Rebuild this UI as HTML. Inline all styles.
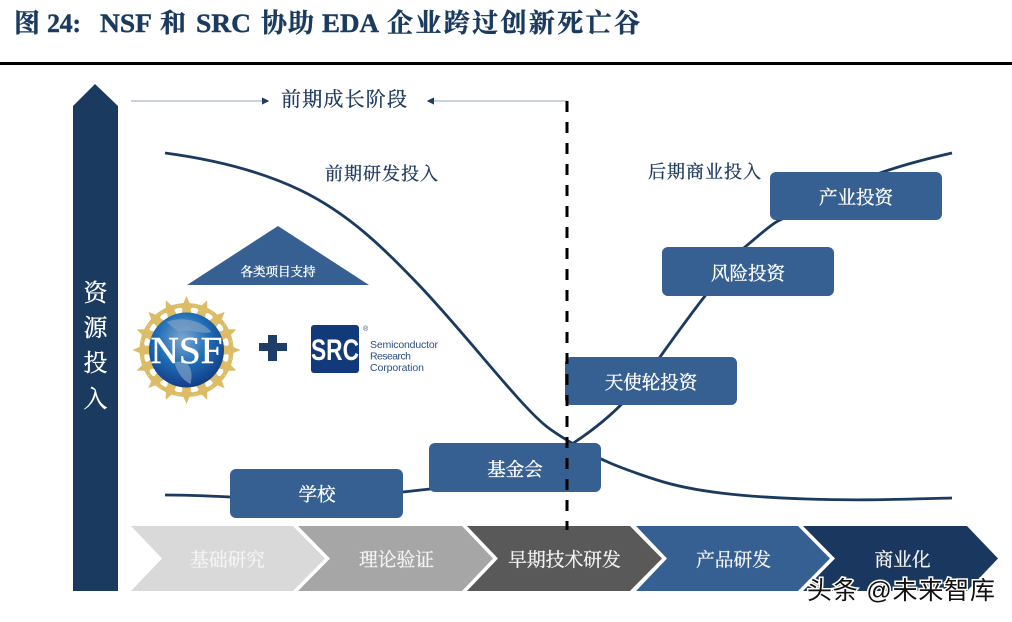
<!DOCTYPE html>
<html lang="zh"><head><meta charset="utf-8"><style>
html,body{margin:0;padding:0;background:#fff}
svg{display:block}
text{font-family:"Liberation Serif","Noto Serif CJK SC",serif}
.w{fill:#fff;stroke:#fff;stroke-width:.35px;font-size:18.500px;text-anchor:middle}
.c{fill:#f4f4f4;stroke:#f4f4f4;stroke-width:.3px;font-size:18.800px;text-anchor:middle}
.d{fill:#1f3b60;stroke:#1f3b60;stroke-width:.3px;font-size:18px}
.l{font-family:"Liberation Sans",sans-serif;fill:#2a4f87;font-size:10.500px}
</style></head><body>
<svg width="1012" height="622" viewBox="0 0 1012 622" xmlns="http://www.w3.org/2000/svg">
<defs>
<radialGradient id="g" cx="45%" cy="35%" r="70%"><stop offset="0" stop-color="#7fa6cf"/><stop offset=".5" stop-color="#1d6db5"/><stop offset="1" stop-color="#12357f"/></radialGradient>
<polygon id="s" points="0,-54 3,-47 10,-46 4,-41 5,-36 -5,-36 -4,-41 -10,-46 -3,-47" fill="#dcbc66"/>
<marker id="a" markerWidth="6" markerHeight="6" refX="5" refY="3" orient="auto"><path d="M0 0L6 3L0 6Z" fill="#1f3b60"/></marker>
</defs>
<g font-weight="700" font-size="26" fill="#1a3a5f" stroke="#1a3a5f" stroke-width=".4">
<text x="14" y="32">图</text>
<text x="47" y="32" textLength="34">24:</text>
<text x="100" y="32" textLength="52" lengthAdjust="spacingAndGlyphs">NSF</text>
<text x="160" y="32">和</text>
<text x="196" y="32" textLength="55" lengthAdjust="spacingAndGlyphs">SRC</text>
<text x="261" y="32" textLength="53">协助</text>
<text x="322" y="32" textLength="57" lengthAdjust="spacingAndGlyphs">EDA</text>
<text x="387" y="32" textLength="253">企业跨过创新死亡谷</text>
</g>
<rect x="0" y="62" width="1012" height="3" fill="#000"/>
<polygon points="95,84 118,106 118,591 73,591 73,106" fill="#1a3a5f"/>
<text class="w" x="95.500" y="301" style="font-size:24px">资</text>
<text class="w" x="95.500" y="336" style="font-size:24px">源</text>
<text class="w" x="95.500" y="371" style="font-size:24px">投</text>
<text class="w" x="95.500" y="407" style="font-size:24px">入</text>

<line x1="131" y1="101" x2="268" y2="101" stroke="#a9b7c8" stroke-width="1.200" marker-end="url(#a)"/>
<line x1="567" y1="101" x2="428" y2="101" stroke="#a9b7c8" stroke-width="1.200" marker-end="url(#a)"/>
<text class="d" x="281" y="106" style="font-size:20px" textLength="126">前期成长阶段</text>
<text class="d" x="325" y="180" textLength="113">前期研发投入</text>
<text class="d" x="648" y="178" textLength="113">后期商业投入</text>

<path d="M165,153 C195,157 250,166 300,190 S385,250 417,283 S490,367 517,397 S550,430 575,445 S620,468 657,480 S745,497 807,499 S900,499 952,498" fill="none" stroke="#1a3a5f" stroke-width="2.800"/>
<path d="M165,495 C190,495 210,496 230,497 L403,492 L430,489 C480,482 530,472 575,442 S640,385 660,357 S690,315 705,296 S735,255 745,247 S770,225 778,221 S860,180 883,172 S930,158 952,153" fill="none" stroke="#1a3a5f" stroke-width="2.800"/>

<polygon points="278,226 369,285 187,285" fill="#376092"/>
<text class="w" x="278" y="276" style="font-size:12.500px" textLength="75">各类项目支持</text>

<g transform="translate(186.500,350)">
<circle r="44" fill="none" stroke="#dcbc66" stroke-width="2.500"/>
<use href="#s"/><use href="#s" transform="rotate(22.500)"/><use href="#s" transform="rotate(45)"/><use href="#s" transform="rotate(67.500)"/><use href="#s" transform="rotate(90)"/><use href="#s" transform="rotate(112.500)"/><use href="#s" transform="rotate(135)"/><use href="#s" transform="rotate(157.500)"/><use href="#s" transform="rotate(180)"/><use href="#s" transform="rotate(202.500)"/><use href="#s" transform="rotate(225)"/><use href="#s" transform="rotate(247.500)"/><use href="#s" transform="rotate(270)"/><use href="#s" transform="rotate(292.500)"/><use href="#s" transform="rotate(315)"/><use href="#s" transform="rotate(337.500)"/>
<circle r="37.500" fill="url(#g)"/>
<path d="M-20,-28 C-5,-34 15,-30 25,-18 C15,-15 5,-22 -8,-18 Z M-12,12 C0,10 8,16 4,34 C-4,30 -10,22 -12,12 Z" fill="#7f9fc4" opacity=".7"/>
<text x="-36" y="13" font-size="38" fill="#fff" stroke="#fff" stroke-width=".5" textLength="72" lengthAdjust="spacingAndGlyphs">NSF</text>
</g>

<path d="M268,336h9v8h10v8h-10v10h-9v-10h-9v-8h9z" fill="#1f3d66" transform="translate(0,-1)"/>

<rect x="311" y="325" width="48" height="48" rx="3" fill="#12397a"/>
<text x="311" y="360" font-size="30" font-weight="700" fill="#fff" style="font-family:'Liberation Sans',sans-serif" textLength="48" lengthAdjust="spacingAndGlyphs">SRC</text>
<text class="l" x="370" y="348" textLength="68">Semiconductor</text>
<text class="l" x="370" y="359.500" textLength="41">Research</text>
<text class="l" x="370" y="371" textLength="54">Corporation</text>
<text class="l" x="363" y="331" style="font-size:7px">®</text>

<g fill="#376092">
<rect x="230" y="469" width="173" height="49" rx="6"/>
<rect x="429" y="443" width="172" height="49" rx="6"/>
<rect x="565" y="357" width="172" height="48" rx="6"/>
<rect x="662" y="247" width="172" height="49" rx="6"/>
<rect x="770" y="172" width="172" height="48" rx="6"/>
</g>
<text class="w" x="317" y="501">学校</text>
<text class="w" x="515" y="476">基金会</text>
<text class="w" x="651" y="389">天使轮投资</text>
<text class="w" x="748" y="280">风险投资</text>
<text class="w" x="856" y="204">产业投资</text>

<polygon points="131,526 293,526 325,558.500 293,591 131,591 162,558.500" fill="#d9d9d9"/>
<polygon points="298,526 462,526 493,558.500 462,591 298,591 330,558.500" fill="#a6a6a6"/>
<polygon points="467,526 630,526 662,558.500 630,591 467,591 498,558.500" fill="#595959"/>
<polygon points="636,526 798,526 830,558.500 798,591 636,591 667,558.500" fill="#376092"/>
<polygon points="803,526 967,526 998,558.500 967,591 803,591 835,558.500" fill="#1a385f"/>
<text class="c" x="227.500" y="566">基础研究</text>
<text class="c" x="396.500" y="566">理论验证</text>
<text class="c" x="564.500" y="566">早期技术研发</text>
<text class="c" x="733.500" y="566">产品研发</text>
<text class="c" x="902.500" y="566">商业化</text>

<line x1="567" y1="101" x2="567" y2="530" stroke="#000" stroke-width="3" stroke-dasharray="11 10"/>

<text x="807" y="599" font-size="25" fill="#111" stroke="#fff" stroke-width="3" paint-order="stroke" style="font-family:'Liberation Sans','Noto Sans CJK SC',sans-serif" textLength="188">头条 @未来智库</text>
</svg>
</body></html>
